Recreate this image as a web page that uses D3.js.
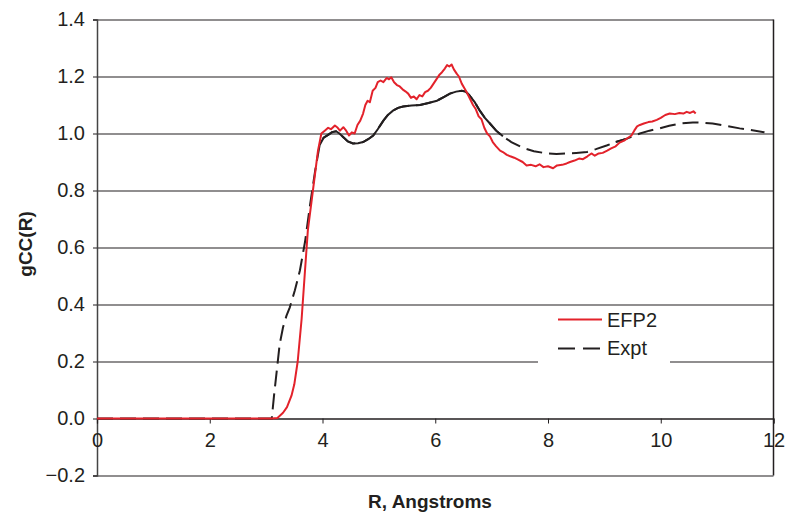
<!DOCTYPE html>
<html>
<head>
<meta charset="utf-8">
<title>gCC(R)</title>
<script src="https://cdn.jsdelivr.net/npm/d3@7"></script>
<style>
  body { margin: 0; background: #fff; }
  text { font-family: "Liberation Sans", Arial, Helvetica, sans-serif; fill: #231f20; }
</style>
</head>
<body>
<div id="chart"></div>
<script>
// EFP2 simulation (R in Angstroms, gCC)
var efp2R = [0, 3.1, 3.2, 3.3, 3.37, 3.45, 3.5, 3.56, 3.63, 3.69, 3.74, 3.83, 3.92, 3.98, 4.04, 4.1, 4.15, 4.22, 4.27, 4.31, 4.37, 4.42, 4.47, 4.52, 4.57, 4.62, 4.67, 4.72, 4.76, 4.8, 4.84, 4.89, 4.94, 4.98, 5.03, 5.08, 5.14, 5.18, 5.22, 5.27, 5.32, 5.37, 5.42, 5.47, 5.52, 5.57, 5.62, 5.67, 5.72, 5.77, 5.82, 5.87, 5.92, 5.97, 6.02, 6.07, 6.12, 6.17, 6.21, 6.25, 6.29, 6.33, 6.38, 6.42, 6.47, 6.52, 6.57, 6.62, 6.67, 6.72, 6.77, 6.82, 6.87, 6.92, 6.97, 7.02, 7.08, 7.15, 7.2, 7.27, 7.33, 7.4, 7.47, 7.55, 7.62, 7.7, 7.78, 7.85, 7.92, 8.0, 8.09, 8.16, 8.25, 8.33, 8.39, 8.47, 8.55, 8.62, 8.7, 8.77, 8.83, 8.9, 8.97, 9.05, 9.12, 9.2, 9.27, 9.35, 9.42, 9.48, 9.53, 9.58, 9.63, 9.7, 9.78, 9.85, 9.93, 10.0, 10.08, 10.16, 10.25, 10.33, 10.4, 10.46, 10.52, 10.58, 10.62];
var efp2G = [0, 0, 0.002, 0.02, 0.04, 0.08, 0.12, 0.2, 0.35, 0.52, 0.66, 0.8, 0.94, 1.0, 1.01, 1.02, 1.015, 1.028, 1.02, 1.01, 1.022, 1.01, 0.993, 1.004, 1.0, 1.03, 1.045, 1.07, 1.1, 1.115, 1.11, 1.15, 1.16, 1.18, 1.186, 1.18, 1.195, 1.19, 1.197, 1.18, 1.17, 1.165, 1.155, 1.148, 1.14, 1.125, 1.13, 1.12, 1.135, 1.13, 1.145, 1.15, 1.16, 1.175, 1.19, 1.205, 1.215, 1.228, 1.24, 1.235, 1.242, 1.225, 1.21, 1.2, 1.175, 1.158, 1.14, 1.12, 1.1, 1.085, 1.06, 1.05, 1.02, 1.0, 0.99, 0.97, 0.955, 0.94, 0.935, 0.925, 0.92, 0.915, 0.908, 0.9, 0.888, 0.89, 0.885, 0.892, 0.882, 0.885, 0.878, 0.888, 0.89, 0.895, 0.9, 0.905, 0.912, 0.91, 0.92, 0.93, 0.922, 0.93, 0.932, 0.94, 0.948, 0.955, 0.968, 0.975, 0.985, 0.993, 1.01, 1.025, 1.03, 1.035, 1.04, 1.042, 1.048, 1.055, 1.065, 1.07, 1.068, 1.072, 1.07, 1.076, 1.072, 1.078, 1.07];

// experiment
var exptR = [0, 3.1, 3.14, 3.19, 3.24, 3.3, 3.36, 3.42, 3.51, 3.6, 3.69, 3.78, 3.87, 3.95, 4.02, 4.1, 4.17, 4.24, 4.3, 4.37, 4.45, 4.54, 4.63, 4.72, 4.81, 4.9, 4.98, 5.08, 5.16, 5.25, 5.34, 5.43, 5.58, 5.73, 5.88, 6.03, 6.15, 6.26, 6.37, 6.47, 6.54, 6.6, 6.7, 6.79, 6.88, 6.97, 7.08, 7.2, 7.35, 7.55, 7.75, 7.98, 8.15, 8.33, 8.5, 8.69, 8.85, 9.04, 9.2, 9.4, 9.63, 9.8, 9.98, 10.15, 10.34, 10.57, 10.75, 10.92, 11.15, 11.4, 11.6, 11.84];
var exptG = [0, 0, 0.08, 0.17, 0.26, 0.32, 0.36, 0.39, 0.45, 0.52, 0.62, 0.75, 0.87, 0.96, 0.985, 0.995, 1.005, 1.008, 1.0, 0.987, 0.972, 0.965, 0.966, 0.97, 0.98, 0.993, 1.015, 1.045, 1.065, 1.08, 1.09, 1.095, 1.098, 1.1, 1.107, 1.115, 1.128, 1.14, 1.147, 1.15, 1.147, 1.135, 1.11, 1.08, 1.055, 1.035, 1.01, 0.99, 0.97, 0.95, 0.938, 0.93, 0.928, 0.93, 0.932, 0.935, 0.945, 0.958, 0.97, 0.982, 1.0, 1.01, 1.018, 1.027, 1.035, 1.039, 1.038, 1.035, 1.027, 1.018, 1.012, 1.004];
// stretches where the dashed line looks solid in the original
var exptSolid = [[3.92, 7.3], [9.2, 9.5]];

var xTicks = [0, 2, 4, 6, 8, 10, 12];
var yTicks = [-0.2, 0, 0.2, 0.4, 0.6, 0.8, 1.0, 1.2, 1.4];
var seriesNames = ["EFP2", "Expt"];

var W = 786, H = 515;
var margin = {left: 97, top: 19.5, right: 12.5, bottom: 39.5};
var w = W - margin.left - margin.right, h = H - margin.top - margin.bottom;
var ink = "#231f20", red = "#e3222b";

var svg = d3.select("#chart").append("svg").attr("width", W).attr("height", H);
var g = svg.append("g").attr("transform", "translate(" + margin.left + "," + margin.top + ")");

var x = d3.scaleLinear().domain([0, 12]).range([0, w]);
var y = d3.scaleLinear().domain([-0.2, 1.4]).range([h, 0]);

// gridlines
g.append("g").selectAll("line").data(yTicks).enter().append("line")
  .attr("x1", 0).attr("x2", w)
  .attr("y1", function(d){ return Math.round(y(d)) + 0.5; })
  .attr("y2", function(d){ return Math.round(y(d)) + 0.5; })
  .attr("stroke", ink).attr("stroke-width", 1.2);

// right border
g.append("line").attr("x1", w).attr("x2", w).attr("y1", 0).attr("y2", h)
  .attr("stroke", ink).attr("stroke-width", 1.5);

// y axis
var yAxis = g.append("g").call(d3.axisLeft(y).tickValues(yTicks).tickSize(4).tickPadding(8)
  .tickFormat(function(d){ return d3.format(".1f")(d).replace("-", "\u2013").replace("\u22122", "\u20132"); }));
yAxis.select(".domain").attr("stroke", "#444").attr("stroke-width", 1.5);
yAxis.selectAll(".tick line").attr("stroke", ink);
yAxis.selectAll("text").style("font-size", "20px").attr("fill", ink);

// x axis sits at y = 0
var xAxis = g.append("g").attr("transform", "translate(0," + y(0) + ")")
  .call(d3.axisBottom(x).tickValues(xTicks).tickSize(5).tickPadding(9).tickFormat(d3.format("d")));
xAxis.select(".domain").attr("stroke", ink).attr("stroke-width", 1.2);
xAxis.selectAll(".tick line").attr("stroke", ink);
xAxis.selectAll("text").style("font-size", "20px").attr("fill", ink);

var line = d3.line().x(function(d){ return x(d[0]); }).y(function(d){ return y(d[1]); });
var expt = d3.zip(exptR, exptG);
var efp2 = d3.zip(efp2R, efp2G);

g.append("path").datum(expt).attr("d", line).attr("fill", "none")
  .attr("stroke", ink).attr("stroke-width", 2).attr("stroke-dasharray", "16,7");
exptSolid.forEach(function(r){
  var part = expt.filter(function(d){ return d[0] >= r[0] && d[0] <= r[1]; });
  g.append("path").datum(part).attr("d", line).attr("fill", "none")
    .attr("stroke", ink).attr("stroke-width", 2);
});
g.append("path").datum(efp2).attr("d", line).attr("fill", "none")
  .attr("stroke", red).attr("stroke-width", 2).attr("stroke-linejoin", "round");

// legend
var lg = svg.append("g");
lg.append("rect").attr("x", 538).attr("y", 306).attr("width", 132).attr("height", 58).attr("fill", "#fff");
lg.append("line").attr("x1", 558).attr("x2", 602).attr("y1", 319.5).attr("y2", 319.5)
  .attr("stroke", red).attr("stroke-width", 2);
lg.append("line").attr("x1", 558).attr("x2", 602).attr("y1", 348.5).attr("y2", 348.5)
  .attr("stroke", ink).attr("stroke-width", 2).attr("stroke-dasharray", "17,8");
lg.selectAll("text").data(seriesNames).enter().append("text")
  .attr("x", 607).attr("y", function(d, i){ return 327 + i * 28; })
  .style("font-size", "20px").text(function(d){ return d; });

// axis titles
svg.append("text").attr("transform", "translate(32,244) rotate(-90)")
  .attr("text-anchor", "middle").style("font-size", "19px").style("font-weight", "bold").text("gCC(R)");
svg.append("text").attr("x", 430).attr("y", 508)
  .attr("text-anchor", "middle").style("font-size", "19px").style("font-weight", "bold").text("R, Angstroms");
</script>
</body>
</html>
